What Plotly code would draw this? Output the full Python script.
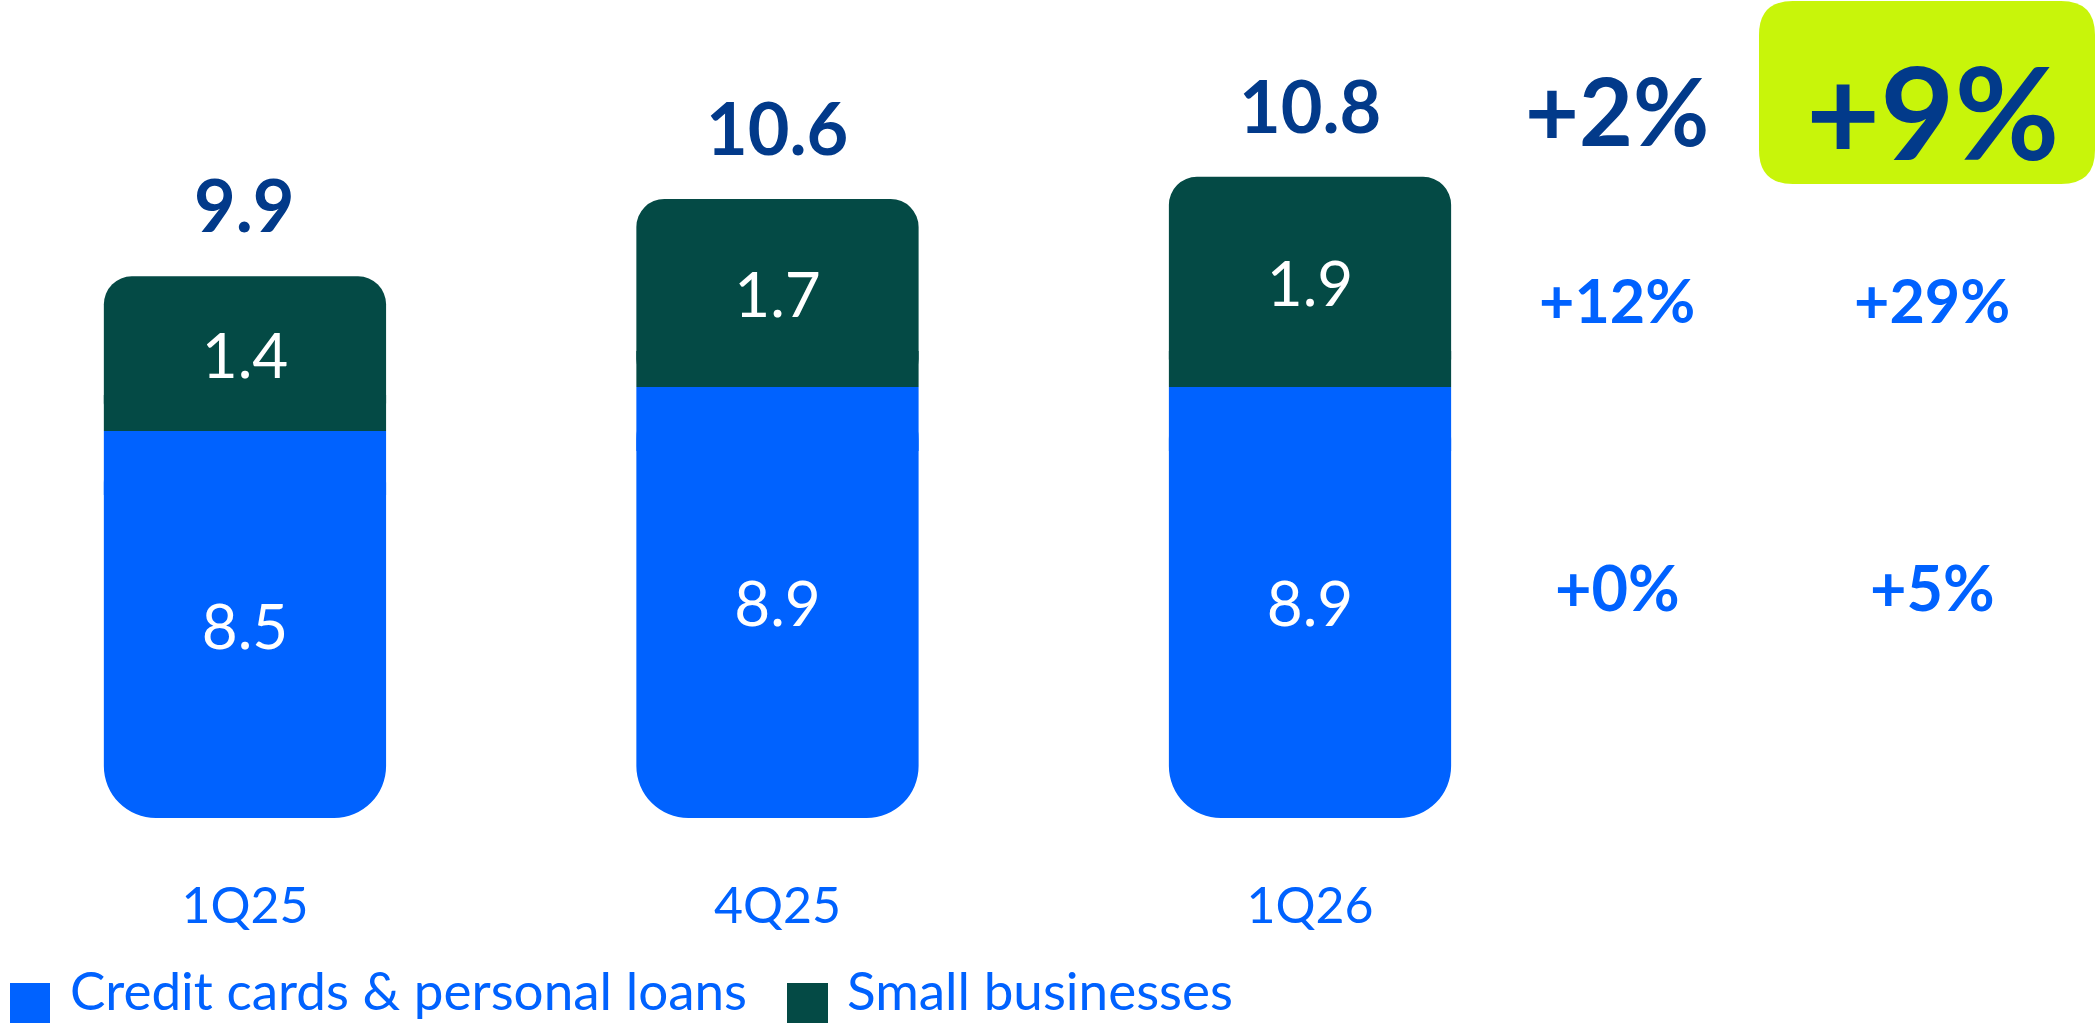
import plotly.graph_objects as go

# ---------------- data ----------------
categories = ["1Q25", "4Q25", "1Q26"]
credit_cards = [8.5, 8.9, 8.9]
small_business = [1.4, 1.7, 1.9]
totals = [9.9, 10.6, 10.8]
series_names = ["Credit cards & personal loans", "Small businesses"]
growth_total = ["+2%", "+9%"]
growth_small = ["+12%", "+29%"]
growth_credit = ["+0%", "+5%"]

# ---------------- style ----------------
BLUE = "#0062FF"
TEAL = "#044A45"
NAVY = "#023A8A"
LIME = "#C8F50A"
FONT = "Lato"
W, H = 2096, 1024
MB = 206            # bottom margin in px
PH = H - MB         # plot height in px
Y_FLOOR = 5.0       # truncated axis floor
Y_TOP = 12.40
X_MIN, X_MAX = -0.46, 3.476
BAR_W = 0.53
R_BLUE, R_TEAL = 52, 28          # corner radii in px
PX_PER_UNIT = PH / (Y_TOP - Y_FLOOR)

x = list(range(len(categories)))

fig = go.Figure()

# credit cards segment: drawn downward from its top (rounded bottom corners)
fig.add_trace(go.Bar(
    x=x, base=credit_cards, y=[Y_FLOOR - v for v in credit_cards],
    name=series_names[0], marker=dict(color=BLUE, cornerradius=R_BLUE, line=dict(width=0)),
    width=BAR_W, text=[f"{v:.1f}" for v in credit_cards], texttemplate="%{text}",
    textposition="inside", insidetextanchor="middle",
    textfont=dict(family=FONT, size=62, color="white"),
    showlegend=False, hoverinfo="skip",
))
# square joint so the top of the blue segment stays square
fig.add_trace(go.Bar(
    x=x, base=credit_cards, y=[-(R_BLUE + 12) / PX_PER_UNIT for _ in credit_cards],
    marker=dict(color=BLUE, cornerradius=0, line=dict(width=0)), width=BAR_W,
    showlegend=False, hoverinfo="skip",
))
# small businesses segment on top (rounded top corners)
fig.add_trace(go.Bar(
    x=x, base=credit_cards, y=small_business,
    name=series_names[1], marker=dict(color=TEAL, cornerradius=R_TEAL, line=dict(width=0)),
    width=BAR_W, text=[f"{v:.1f}" for v in small_business], texttemplate="%{text}",
    textposition="inside", insidetextanchor="middle",
    textfont=dict(family=FONT, size=62, color="white"),
    showlegend=False, hoverinfo="skip",
))
fig.add_trace(go.Bar(
    x=x, base=credit_cards, y=[(R_TEAL + 8) / PX_PER_UNIT for _ in small_business],
    marker=dict(color=TEAL, cornerradius=0, line=dict(width=0)), width=BAR_W,
    showlegend=False, hoverinfo="skip",
))

annotations = []
for xi, t in zip(x, totals):
    annotations.append(dict(x=xi, y=t, xref="x", yref="y", text=f"<b>{t:.1f}</b>",
                            showarrow=False, yanchor="middle", yshift=72,
                            font=dict(family=FONT, size=72, color=NAVY)))

def px_x(p):
    return p / W

def px_y(p):
    return (PH - p) / PH

col_x = [1617, 1932]
for cx, txt, size in zip(col_x, growth_total, [93, 128]):
    annotations.append(dict(x=px_x(cx), y=px_y(110), xref="paper", yref="paper", text=f"<b>{txt}</b>",
                            showarrow=False, xanchor="center", yanchor="middle",
                            font=dict(family=FONT, size=size, color=NAVY)))
for cx, txt in zip(col_x, growth_small):
    annotations.append(dict(x=px_x(cx), y=px_y(299), xref="paper", yref="paper", text=f"<b>{txt}</b>",
                            showarrow=False, xanchor="center", yanchor="middle",
                            font=dict(family=FONT, size=61, color=BLUE)))
for cx, txt in zip(col_x, growth_credit):
    annotations.append(dict(x=px_x(cx), y=px_y(586), xref="paper", yref="paper", text=f"<b>{txt}</b>",
                            showarrow=False, xanchor="center", yanchor="middle",
                            font=dict(family=FONT, size=63, color=BLUE)))

# legend (manual, for large swatches)
legend_items = [(10, 50, BLUE, 68, series_names[0]), (787, 828, TEAL, 845, series_names[1])]
shapes = []
for x0, x1, col, tx, name in legend_items:
    shapes.append(dict(type="rect", xref="paper", yref="paper", x0=px_x(x0), x1=px_x(x1),
                       y0=px_y(1023), y1=px_y(983), fillcolor=col, line=dict(width=0), layer="above"))
    annotations.append(dict(x=px_x(tx), y=px_y(989), xref="paper", yref="paper", text=name,
                            showarrow=False, xanchor="left", yanchor="middle",
                            font=dict(family=FONT, size=53, color=BLUE)))

# lime highlight box with rounded corners
bx0, bx1, by0, by1, r = 1759, 2095, 1, 184, 34
def P(px, py):
    return f"{px_x(px)},{px_y(py)}"
path = (f"M {P(bx0 + r, by0)} L {P(bx1 - r, by0)} Q {P(bx1, by0)} {P(bx1, by0 + r)} "
        f"L {P(bx1, by1 - r)} Q {P(bx1, by1)} {P(bx1 - r, by1)} "
        f"L {P(bx0 + r, by1)} Q {P(bx0, by1)} {P(bx0, by1 - r)} "
        f"L {P(bx0, by0 + r)} Q {P(bx0, by0)} {P(bx0 + r, by0)} Z")
shapes.append(dict(type="path", xref="paper", yref="paper", path=path, fillcolor=LIME,
                   line=dict(width=0), layer="below"))

fig.update_layout(
    width=W, height=H, barmode="overlay",
    margin=dict(l=0, r=0, t=0, b=MB, pad=0),
    paper_bgcolor="white", plot_bgcolor="rgba(0,0,0,0)",
    showlegend=False,
    xaxis=dict(range=[X_MIN, X_MAX], tickvals=x, ticktext=categories, showgrid=False,
               zeroline=False, showline=False, ticks="", ticklabelstandoff=54,
               tickfont=dict(family=FONT, size=50, color=BLUE)),
    yaxis=dict(range=[Y_FLOOR, Y_TOP], visible=False, showgrid=False, zeroline=False),
    annotations=annotations, shapes=shapes,
)

fig.write_html("out.html")
